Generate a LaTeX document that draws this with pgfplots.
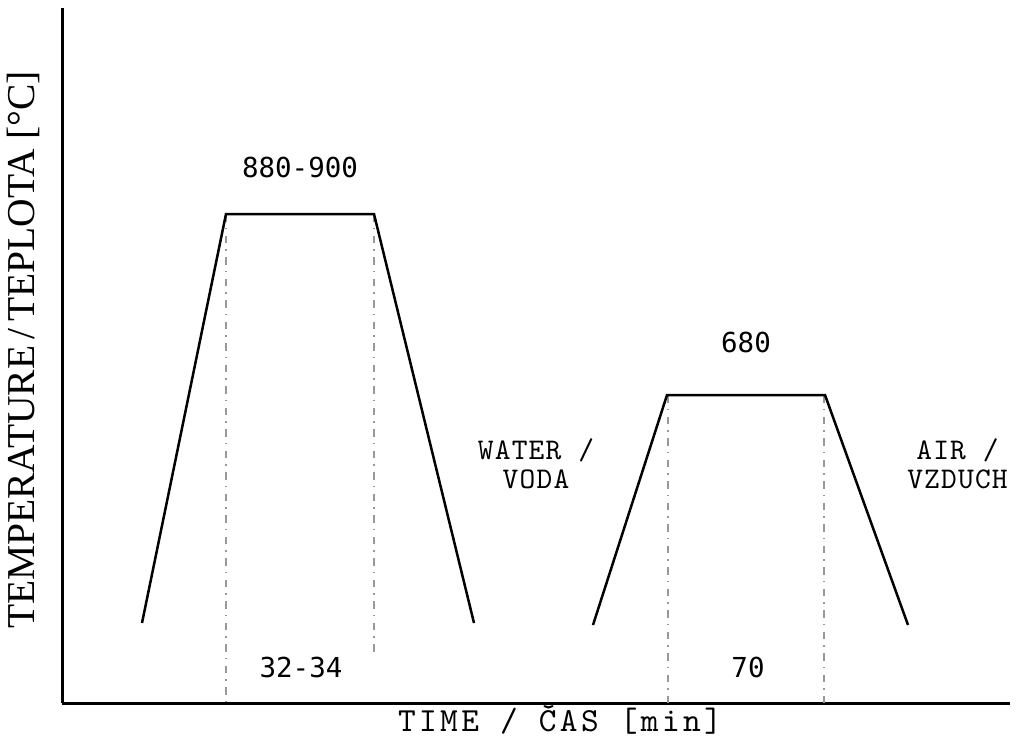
\documentclass[border=0pt]{standalone}
\usepackage{fontspec}
\usepackage{pgfplots}
\pgfplotsset{compat=1.18}
\setmainfont{Liberation Serif}
\newfontfamily\numf{DejaVu Sans Mono}
\newfontfamily\typew[LetterSpace=4]{lmmono10-regular.otf}
\newfontfamily\typewx[LetterSpace=10]{lmmono10-regular.otf}

\begin{document}
\begin{tikzpicture}
\begin{axis}[
  scale only axis, width=379.2pt, height=278pt,
  xmin=62, xmax=1010, ymin=33, ymax=728,
  axis x line*=bottom, axis y line*=left,
  xtick=\empty, ytick=\empty,
  axis line style={line width=1.2pt, black},
  clip=false,
]
% dotted guide lines
\addplot[gray!80, line width=0.5pt, dash pattern=on 3pt off 2.5pt on 0.6pt off 2.5pt] coordinates {(226,522) (226,33)};
\addplot[gray!80, line width=0.5pt, dash pattern=on 3pt off 2.5pt on 0.6pt off 2.5pt] coordinates {(374,522) (374,81)};
\addplot[gray!80, line width=0.5pt, dash pattern=on 3pt off 2.5pt on 0.6pt off 2.5pt] coordinates {(668,341) (668,33)};
\addplot[gray!80, line width=0.5pt, dash pattern=on 3pt off 2.5pt on 0.6pt off 2.5pt] coordinates {(824,341) (824,33)};
% trapezoids
\addplot[black, line width=1pt] coordinates {(142,113) (226,522) (374,522) (474,113)};
\addplot[black, line width=1pt] coordinates {(593,111) (667,341) (825,341) (908,111)};
% labels
\node[font=\fontsize{11}{12}\numf] at (axis cs:300,569) {880-900};
\node[font=\fontsize{11}{12}\numf] at (axis cs:301,69) {32-34};
\node[font=\fontsize{11}{12}\numf] at (axis cs:746,394) {680};
\node[font=\fontsize{11}{12}\numf] at (axis cs:748,69) {70};
\node[font=\fontsize{12}{11.6}\typew, align=center] at (axis cs:536,272.5) {WATER /\\VODA};
\node[font=\fontsize{12}{11.6}\typew, align=center] at (axis cs:957.5,272.5) {AIR /\\VZDUCH};
\node[font=\fontsize{13.5}{14}\typewx] at (axis cs:560,16) {TIME / ČAS [min]};
\node[font=\fontsize{15.8}{16}\selectfont, rotate=90] at (axis cs:23,386) {TEMPERATURE\,/\,TEPLOTA [°C]};
\coordinate (bl) at (axis cs:0,0);
\coordinate (tr) at (axis cs:1018,736);
\end{axis}
\pgfresetboundingbox
\path[use as bounding box] (bl) rectangle (tr);
\end{tikzpicture}
\end{document}
